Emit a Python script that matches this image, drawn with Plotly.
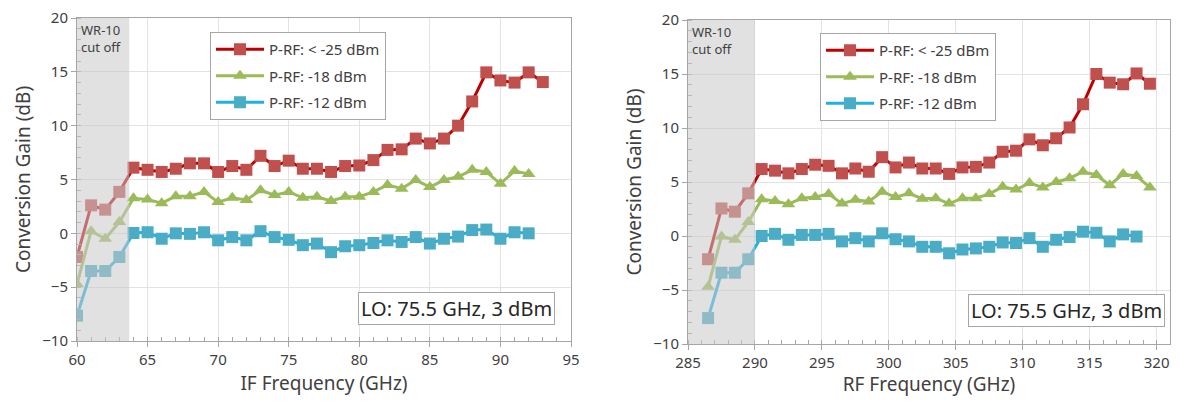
import plotly.graph_objects as go

# ---------------- data ----------------
if_x_red = [60, 61, 62, 63, 64, 65, 66, 67, 68, 69, 70, 71, 72, 73, 74, 75, 76, 77, 78, 79, 80,
            81, 82, 83, 84, 85, 86, 87, 88, 89, 90, 91, 92, 93]
if_red = [-2.2, 2.6, 2.2, 3.85, 6.1, 5.9, 5.7, 6.0, 6.5, 6.5, 5.7, 6.25, 5.9, 7.2, 6.25, 6.75, 6.0,
          6.0, 5.7, 6.25, 6.3, 6.8, 7.75, 7.8, 8.8, 8.35, 8.8, 10.0, 12.25, 14.95, 14.2, 14.0, 14.95, 14.05]
if_x_grn = if_x_red[:-1]
if_grn = [-4.7, 0.2, -0.5, 1.05, 3.25, 3.15, 2.8, 3.45, 3.45, 3.85, 2.9, 3.3, 3.1, 4.0, 3.55, 3.85, 3.3,
          3.4, 3.0, 3.4, 3.4, 3.85, 4.5, 4.15, 4.95, 4.3, 4.95, 5.25, 5.9, 5.7, 4.6, 5.8, 5.5]
if_x_blu = if_x_red[:-1]
if_blu = [-7.65, -3.5, -3.5, -2.2, 0.03, 0.1, -0.5, 0.0, -0.05, 0.1, -0.65, -0.35, -0.65, 0.2, -0.35, -0.6, -1.1,
          -0.95, -1.75, -1.2, -1.1, -0.9, -0.65, -0.8, -0.35, -0.95, -0.5, -0.3, 0.3, 0.35, -0.5, 0.1, 0.0]

rf_x_red = [286.5, 287.5, 288.5, 289.5, 290.5, 291.5, 292.5, 293.5, 294.5, 295.5, 296.5, 297.5, 298.5,
            299.5, 300.5, 301.5, 302.5, 303.5, 304.5, 305.5, 306.5, 307.5, 308.5, 309.5, 310.5, 311.5,
            312.5, 313.5, 314.5, 315.5, 316.5, 317.5, 318.5, 319.5]
rf_red = [-2.15, 2.55, 2.25, 3.95, 6.2, 6.05, 5.8, 6.2, 6.6, 6.5, 5.8, 6.25, 5.95, 7.3, 6.35, 6.8, 6.25,
          6.25, 5.75, 6.35, 6.4, 6.8, 7.8, 7.9, 8.95, 8.4, 9.05, 10.05, 12.2, 15.0, 14.2, 14.05, 15.05, 14.1]
rf_x_grn = rf_x_red
rf_grn = [-4.7, -0.05, -0.35, 1.3, 3.4, 3.25, 2.95, 3.5, 3.6, 3.9, 3.0, 3.35, 3.2, 4.1, 3.6, 3.95, 3.45,
          3.5, 3.0, 3.5, 3.5, 3.9, 4.55, 4.3, 4.9, 4.5, 5.0, 5.35, 5.95, 5.65, 4.7, 5.75, 5.55, 4.5]
rf_x_blu = rf_x_red[:-1]
rf_blu = [-7.6, -3.4, -3.4, -2.15, 0.0, 0.2, -0.35, 0.1, 0.1, 0.2, -0.5, -0.2, -0.5, 0.25, -0.3, -0.5, -1.0,
          -1.0, -1.6, -1.25, -1.15, -1.0, -0.6, -0.65, -0.2, -1.0, -0.35, -0.1, 0.4, 0.3, -0.5, 0.15, -0.05]

series_names = ["P-RF: < -25 dBm", "P-RF: -18 dBm", "P-RF: -12 dBm"]
x_ticks_if = [60, 65, 70, 75, 80, 85, 90, 95]
x_ticks_rf = [285, 290, 295, 300, 305, 310, 315, 320]
y_ticks = [-10, -5, 0, 5, 10, 15, 20]

# ---------------- layout helpers (page has an 8px body margin) ----------------
OFF = 8
W, H = 1180 - 2 * OFF, 405 - 2 * OFF


def px(x):
    return (x - OFF) / W


def py(y):
    return 1 - (y - OFF) / H


FONT = "Noto Sans"
TXT = "#404040"
styles = [
    dict(line=dict(color="#c00000", width=3), marker=dict(symbol="square", size=12, color="#c0504d")),
    dict(line=dict(color="#9bbb59", width=3), marker=dict(symbol="triangle-up", size=12, color="#9bbb59")),
    dict(line=dict(color="#1fb0e6", width=3), marker=dict(symbol="square", size=12, color="#4bacc6")),
]

fig = go.Figure()
left = [(if_x_red, if_red), (if_x_grn, if_grn), (if_x_blu, if_blu)]
right = [(rf_x_red, rf_red), (rf_x_grn, rf_grn), (rf_x_blu, rf_blu)]
for i, (xs, ys) in enumerate(left):
    fig.add_trace(go.Scatter(x=xs, y=ys, mode="lines+markers", name=series_names[i],
                             legendgroup="L%d" % i,
                             xaxis="x", yaxis="y", legend="legend", **styles[i]))
for i, (xs, ys) in enumerate(right):
    fig.add_trace(go.Scatter(x=xs, y=ys, mode="lines+markers", name=series_names[i],
                             legendgroup="R%d" % i,
                             xaxis="x2", yaxis="y2", legend="legend2", **styles[i]))

axis_common = dict(showline=True, linecolor="#a6a6a6", linewidth=1, mirror=True,
                   showgrid=True, gridcolor="#e3e3e3", gridwidth=1, zeroline=False,
                   ticks="outside", ticklen=5, tickcolor="#a6a6a6", automargin=False,
                   ticklabeloverflow="allow",
                   tickfont=dict(family=FONT, size=15, color=TXT))
minor = dict(dtick=1, ticks="inside", ticklen=4, tickcolor="#a6a6a6", showgrid=False)
legend_common = dict(xanchor="left", yanchor="top", bgcolor="white", bordercolor="#a6a6a6",
                     borderwidth=1, font=dict(family=FONT, size=15, color=TXT),
                     tracegroupgap=4, itemwidth=48)
TITLE_FONT = dict(family=FONT, size=19, color=TXT)

fig.update_layout(
    width=W, height=H, margin=dict(l=0, r=0, t=0, b=0),
    paper_bgcolor="white", plot_bgcolor="white",
    font=dict(family=FONT, color=TXT),
    xaxis=dict(domain=[px(77), px(571)], range=[60, 95], tickvals=x_ticks_if,
               title=dict(text="IF Frequency (GHz)", font=TITLE_FONT, standoff=8),
               minor=minor, anchor="y", **axis_common),
    yaxis=dict(domain=[py(341), py(18)], range=[-10, 20], tickvals=y_ticks,
               title=dict(text="Conversion Gain (dB)", font=TITLE_FONT, standoff=6),
               minor=minor, anchor="x", **axis_common),
    xaxis2=dict(domain=[px(688), px(1170)], range=[285, 321], tickvals=x_ticks_rf,
                title=dict(text="RF Frequency (GHz)", font=TITLE_FONT, standoff=8),
                minor=minor, anchor="y2", **axis_common),
    yaxis2=dict(domain=[py(344), py(20)], range=[-10, 20], tickvals=y_ticks,
                title=dict(text="Conversion Gain (dB)", font=TITLE_FONT, standoff=6),
                minor=minor, anchor="x2", **axis_common),
    legend=dict(x=px(210), y=py(32), **legend_common),
    legend2=dict(x=px(820), y=py(33), **legend_common),
    showlegend=True,
)

# shaded WR-10 cut-off band (semi-transparent, over the data)
fig.add_shape(type="rect", xref="x", yref="y", x0=60, x1=63.7, y0=-10, y1=20,
              fillcolor="rgba(200,200,200,0.55)", line=dict(width=0), layer="above")
fig.add_shape(type="rect", xref="x2", yref="y2", x0=285, x1=290, y0=-10, y1=20,
              fillcolor="rgba(200,200,200,0.55)", line=dict(width=0), layer="above")

for xr, yr, x0 in [("x", "y", 60), ("x2", "y2", 285)]:
    fig.add_annotation(xref=xr, yref=yr, x=x0, y=20, xanchor="left", yanchor="top",
                       xshift=2, yshift=-1, showarrow=False, align="center",
                       text="WR-10<br>cut off", font=dict(family=FONT, size=13, color="#404040"))

for xr_px, yb_px in [(555, 325), (1165, 327)]:
    fig.add_annotation(xref="paper", yref="paper", x=px(xr_px), y=py(yb_px),
                       xanchor="right", yanchor="bottom",
                       showarrow=False, text="LO: 75.5 GHz, 3 dBm", bgcolor="white",
                       bordercolor="#a6a6a6", borderwidth=1, borderpad=2,
                       font=dict(family=FONT, size=20, color="#262626"))

fig.write_html("out.html")
